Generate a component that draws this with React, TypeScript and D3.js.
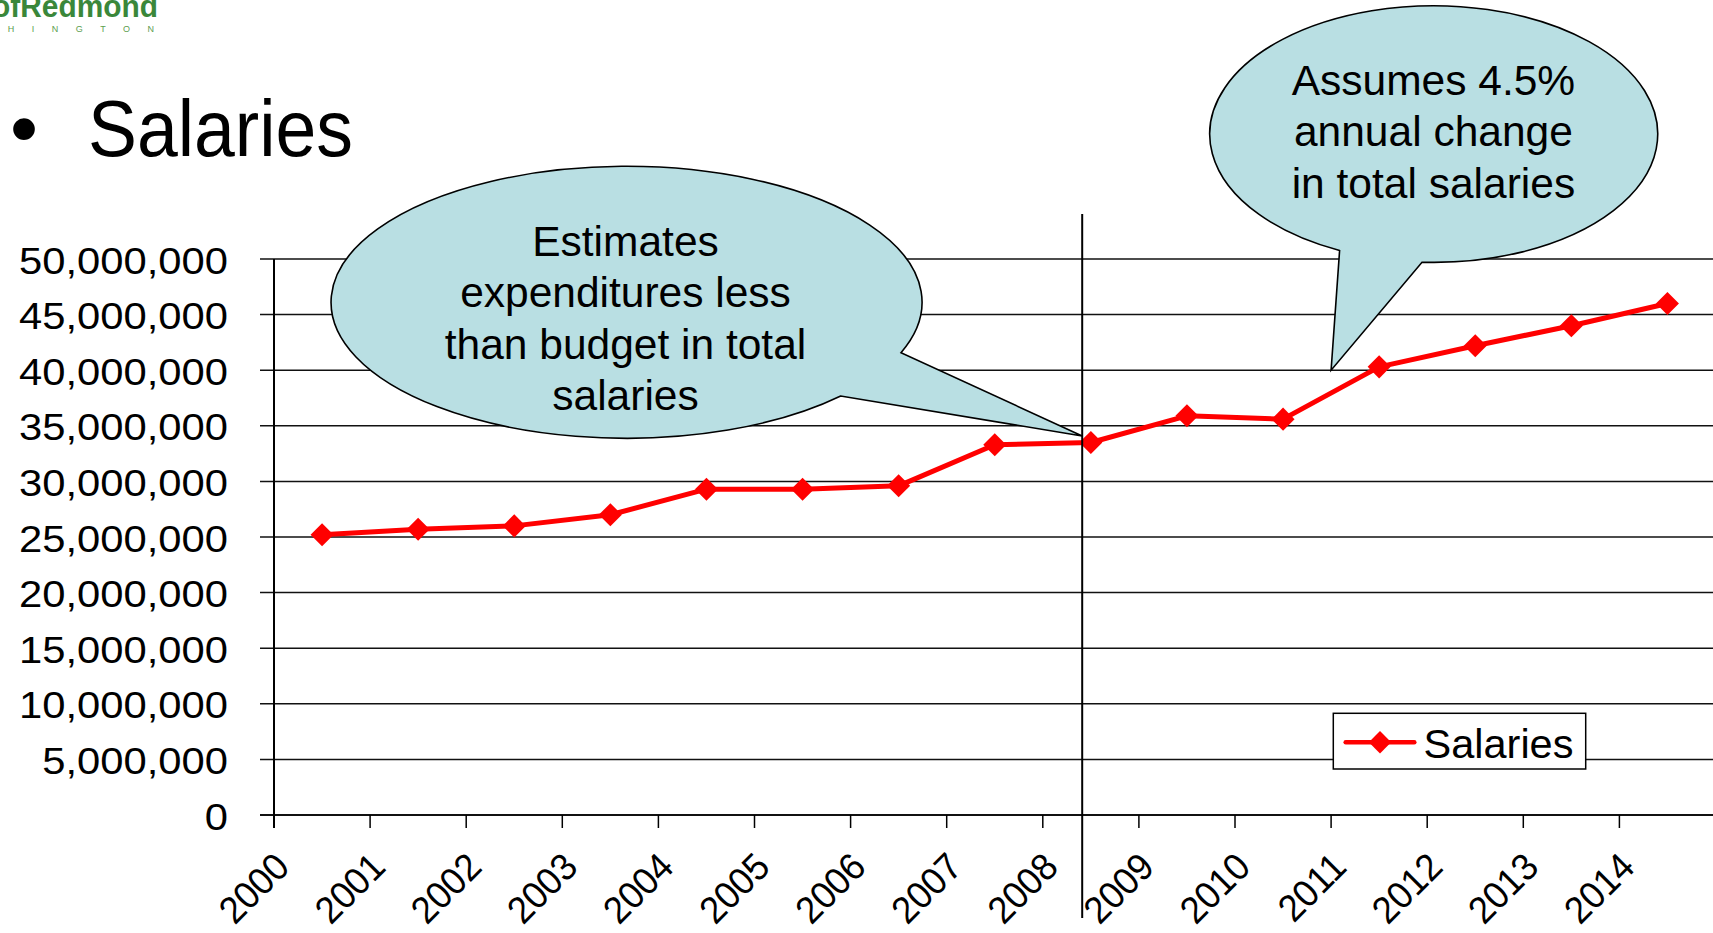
import React from 'react';
import * as d3 from 'd3';

const years = ['2000','2001','2002','2003','2004','2005','2006','2007','2008','2009','2010','2011','2012','2013','2014'];
const salaries = [25.2e6, 25.7e6, 26.0e6, 27.0e6, 29.3e6, 29.3e6, 29.6e6, 33.3e6, 33.5e6, 35.9e6, 35.6e6, 40.3e6, 42.2e6, 44.0e6, 46.0e6];
const yTicks = [0, 5e6, 10e6, 15e6, 20e6, 25e6, 30e6, 35e6, 40e6, 45e6, 50e6];
const seriesName = 'Salaries';
const titleText = 'Salaries';
const leftNote = ['Estimates', 'expenditures less', 'than budget in total', 'salaries'];
const rightNote = ['Assumes 4.5%', 'annual change', 'in total salaries'];

const W = 1713, H = 933;
const FONT = '"Liberation Sans", Arial, sans-serif';

export default function App() {
  const x0 = 274, step = 96.1;
  const x = d3.scaleBand<string>().domain(years).range([x0, x0 + step * years.length]).padding(0);
  const y = d3.scaleLinear().domain([0, 50e6]).range([815, 259]);
  const bw = x.bandwidth();
  const cx = (i: number) => (x(years[i]) as number) + bw / 2;
  const fmt = d3.format(',');
  const line = d3.line<number>().x((_, i) => cx(i)).y(d => y(d));
  const diamond = d3.symbol().type(d3.symbolSquare).size(265)();
  const legDiamond = d3.symbol().type(d3.symbolSquare).size(250)();
  const xEnd = x0 + step * years.length;
  const splitX = (x('2008') as number) + bw * 0.41;

  // bubble geometry
  const lb = { cx: 625.5, cy: 303, rx: 295.5, ry: 136 };
  const lPath = `M901,352.7 A${lb.rx},${lb.ry} 0 1 0 840.7,396 L${splitX},436 Z`;
  const rb = { cx: 1433.4, cy: 133.8, rx: 224, ry: 128.3 };
  const rPath = `M1422,262.2 A${rb.rx},${rb.ry} 0 1 0 1339.6,250.5 L${x('2011')},${y(40e6)} Z`;

  return (
    <svg width={W} height={H} style={{ position: 'fixed', left: 0, top: 0, background: '#fff' }} fontFamily={FONT}>
      <rect x={0} y={0} width={W} height={H} fill="#fff" />
      {/* logo */}
      <text x={-8} y={17} fontSize={31} fontWeight="bold" fill="#3a873a" textLength={166} lengthAdjust="spacingAndGlyphs">ofRedmond</text>
      <text x={-65} y={32} fontSize={9} fill="#5d9e4f" letterSpacing={17.5}>WASHINGTON</text>
      {/* title */}
      <text x={10} y={156} fontSize={80} fill="#000">•</text>
      <text x={88} y={156} fontSize={80} fill="#000" textLength={265} lengthAdjust="spacingAndGlyphs">{titleText}</text>

      {/* gridlines */}
      {yTicks.map(t => (
        <g key={t}>
          <line x1={x0 - 14} x2={xEnd} y1={y(t)} y2={y(t)} stroke="#111" strokeWidth={t === 0 ? 2 : 1.5} />
          <text transform={`translate(228,${y(t) + 14.5}) scale(1.16,1)`} textAnchor="end" fontSize={36} fill="#000">{fmt(t)}</text>
        </g>
      ))}
      {/* y axis */}
      <line x1={x0} x2={x0} y1={y(50e6)} y2={y(0) + 13} stroke="#000" strokeWidth={2} />
      {/* x ticks & labels */}
      {years.map(yr => {
        const tx = x(yr) as number;
        return (
          <g key={yr}>
            <line x1={tx} x2={tx} y1={y(0)} y2={y(0) + 13} stroke="#000" strokeWidth={1.5} />
            <text transform={`translate(${tx + 17.4},869) rotate(-45) scale(0.95,1)`} textAnchor="end" fontSize={38} fill="#000">{yr}</text>
          </g>
        );
      })}

      {/* series */}
      <path d={line(salaries) as string} fill="none" stroke="#ff0000" strokeWidth={5} strokeLinejoin="round" />
      {salaries.map((v, i) => (
        <path key={i} d={diamond as string} transform={`translate(${cx(i)},${y(v)}) rotate(45)`} fill="#ff0000" />
      ))}

      {/* split line */}
      <line x1={splitX} x2={splitX} y1={214} y2={918} stroke="#000" strokeWidth={2} />

      {/* bubbles */}
      <path d={lPath} fill="#b9dfe3" stroke="#000" strokeWidth={1.6} strokeLinejoin="miter" />
      {leftNote.map((t, i) => (
        <text key={t} x={lb.cx} y={256 + i * 51.3} textAnchor="middle" fontSize={42.5} fill="#000">{t}</text>
      ))}
      <path d={rPath} fill="#b9dfe3" stroke="#000" strokeWidth={1.6} />
      {rightNote.map((t, i) => (
        <text key={t} x={rb.cx} y={95 + i * 51.3} textAnchor="middle" fontSize={42.5} fill="#000">{t}</text>
      ))}

      {/* legend */}
      <rect x={1333.3} y={713.3} width={252.4} height={55.7} fill="#fff" stroke="#000" strokeWidth={1.5} />
      <line x1={1345.7} x2={1414.3} y1={742.3} y2={742.3} stroke="#ff0000" strokeWidth={4.5} strokeLinecap="round" />
      <path d={legDiamond as string} transform="translate(1380,742.3) rotate(45)" fill="#ff0000" />
      <text x={1423.5} y={757.5} fontSize={41.5} fill="#000">{seriesName}</text>
    </svg>
  );
}
